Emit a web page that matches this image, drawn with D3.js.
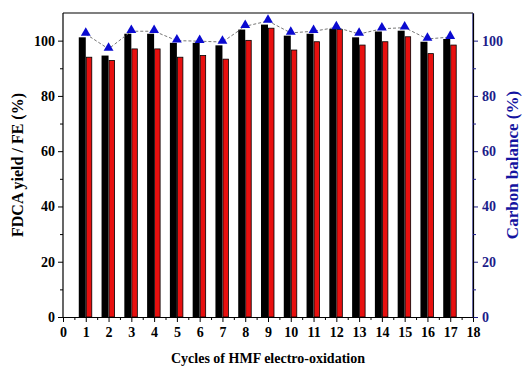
<!DOCTYPE html>
<html>
<head>
<meta charset="utf-8">
<script src="https://cdn.jsdelivr.net/npm/d3@7"></script>
<style>
body { margin:0; background:#fff; }
text { font-family: "Liberation Serif", "Times New Roman", serif; font-weight: bold; }
</style>
</head>
<body>
<div id="chart"></div>
<script>
var cycles = [1,2,3,4,5,6,7,8,9,10,11,12,13,14,15,16,17];
var fdcaYield = [101.2,94.6,102.5,102.5,99.2,99.2,98.3,104,105.8,101.8,102.5,104.2,101.2,103.3,103.6,99.6,100.6];
var faradaicEff = [94,92.8,97,97,94,94.6,93.3,100.1,104.5,96.6,99.6,104,98.4,99.6,101.4,95.3,98.4];
var carbonBalance = [102.4,97,103.4,103.4,100,99.8,99.5,105.2,107.1,102.8,103.4,104.8,102.4,104.3,104.7,100.6,101.3];
var xTicks = d3.range(0, 19);
var yTicks = [0,20,40,60,80,100];

var margin = { left:63, right:54, top:13, bottom:50 };
var W = 527, H = 367;
var width = W - margin.left - margin.right;
var height = H - margin.top - margin.bottom;
var navy = "#1c1c8a";

var svg = d3.select("#chart").append("svg")
    .attr("width", W).attr("height", H);
var g = svg.append("g")
    .attr("transform", "translate(" + margin.left + "," + margin.top + ")");

var x = d3.scaleLinear().domain([0, 18]).range([0, width]);
var y = d3.scaleLinear().domain([0, 110]).range([height, 0]);
var y2 = d3.scaleLinear().domain([0, 110]).range([height, 0]);

var barW = 7;

// black bars (FDCA yield)
g.selectAll(".bar-yield")
    .data(cycles)
    .enter().append("rect")
    .attr("class", "bar-yield")
    .attr("x", function(d){ return x(d) - barW; })
    .attr("y", function(d, i){ return y(fdcaYield[i]); })
    .attr("width", barW)
    .attr("height", function(d, i){ return height - y(fdcaYield[i]); })
    .attr("fill", "#000");

// red bars (FE)
g.selectAll(".bar-fe")
    .data(cycles)
    .enter().append("rect")
    .attr("class", "bar-fe")
    .attr("x", function(d){ return x(d) + 0.5; })
    .attr("y", function(d, i){ return y(faradaicEff[i]); })
    .attr("width", barW - 1.5)
    .attr("height", function(d, i){ return height - y(faradaicEff[i]); })
    .attr("fill", "#e8100f")
    .attr("stroke", "#000")
    .attr("stroke-width", 0.8);

// carbon balance line
var line = d3.line()
    .x(function(d){ return x(d); })
    .y(function(d, i){ return y2(carbonBalance[i]); });
g.append("path")
    .attr("d", line(cycles))
    .attr("fill", "none")
    .attr("stroke", "#777")
    .attr("stroke-width", 1)
    .attr("stroke-dasharray", "3,2");

g.selectAll(".tri")
    .data(cycles)
    .enter().append("path")
    .attr("class", "tri")
    .attr("d", d3.symbol().type(d3.symbolTriangle).size(42))
    .attr("transform", function(d, i){ return "translate(" + x(d) + "," + (y2(carbonBalance[i]) - 1) + ")"; })
    .attr("fill", "#0a0ad0");

// top frame
g.append("line")
    .attr("x1", 0).attr("x2", width).attr("y1", 0).attr("y2", 0)
    .attr("stroke", "#000").attr("stroke-width", 1.2);

// x axis
var xAxis = g.append("g")
    .attr("transform", "translate(0," + height + ")")
    .call(d3.axisBottom(x).tickValues(xTicks).tickSize(5).tickSizeOuter(0).tickFormat(d3.format("d")));
g.append("g")
    .attr("transform", "translate(0," + height + ")")
    .call(d3.axisBottom(x).tickValues(d3.range(0.5, 18, 1)).tickSize(3).tickSizeOuter(0).tickFormat(""))
    .select(".domain").remove();
xAxis.selectAll("text").attr("font-size", "14px").attr("dy", "0.85em").attr("fill", "#000");

// left axis
var yAxis = g.append("g")
    .call(d3.axisLeft(y).tickValues(yTicks).tickSize(5).tickSizeOuter(0));
g.append("g")
    .call(d3.axisLeft(y).tickValues([10,30,50,70,90]).tickSize(3).tickSizeOuter(0).tickFormat(""))
    .select(".domain").remove();
yAxis.selectAll("text").attr("font-size", "14px").attr("fill", "#000");
yAxis.select(".domain").attr("d", "M0," + height + "V0");

// right axis
var y2Axis = g.append("g")
    .attr("transform", "translate(" + width + ",0)")
    .call(d3.axisRight(y2).tickValues(yTicks).tickSize(5).tickSizeOuter(0));
g.append("g")
    .attr("transform", "translate(" + width + ",0)")
    .call(d3.axisRight(y2).tickValues([10,30,50,70,90]).tickSize(3).tickSizeOuter(0).tickFormat(""))
    .selectAll("line").attr("stroke", navy);
y2Axis.select(".domain").attr("stroke", navy).attr("d", "M0," + height + "V0");
y2Axis.selectAll("line").attr("stroke", navy);
y2Axis.selectAll("text").attr("font-size", "14px").attr("fill", navy).attr("x", 9);

g.selectAll(".domain").attr("stroke-width", 1.2);

// axis titles
g.append("text")
    .attr("x", width / 2)
    .attr("y", height + 46)
    .attr("text-anchor", "middle")
    .attr("font-size", "14px")
    .text("Cycles of HMF electro-oxidation");

g.append("text")
    .attr("transform", "rotate(-90)")
    .attr("x", -height / 2)
    .attr("y", -40)
    .attr("text-anchor", "middle")
    .attr("font-size", "16px")
    .text("FDCA yield / FE (%)");

g.append("text")
    .attr("transform", "translate(" + (width + 45) + "," + (height / 2) + ") rotate(-90)")
    .attr("text-anchor", "middle")
    .attr("font-size", "17px")
    .attr("fill", "#1414a0")
    .text("Carbon balance (%)");
</script>
</body>
</html>
